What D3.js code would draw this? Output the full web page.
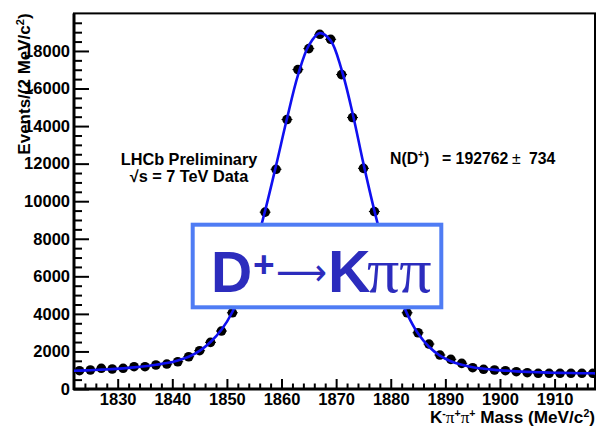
<!DOCTYPE html>
<html>
<head>
<meta charset="utf-8">
<script src="https://cdn.jsdelivr.net/npm/d3@7"></script>
<style>
  html, body { margin: 0; padding: 0; background: #fff; }
  svg { display: block; }
  text { font-family: "Liberation Sans", Arial, sans-serif; font-weight: bold; }
</style>
</head>
<body>
<svg id="chart" width="598" height="427"></svg>
<script>
// ---- data ----
const massBins = [1823,1825,1827,1829,1831,1833,1835,1837,1839,1841,1843,1845,1847,1849,1851,1853,
  1855,1857,1859,1861,1863,1865,1867,1869,1871,1873,1875,1877,1879,1881,1883,1885,1887,1889,1891,
  1893,1895,1897,1899,1901,1903,1905,1907,1909,1911,1913,1915,1917];
const counts = [974,1011,1101,1064,1101,1186,1186,1277,1330,1452,1718,2038,2484,3086,4059,5600,
  7400,9416,11700,14348,17008,18125,18886,18620,16742,14455,11750,9450,7400,5600,4059,2995,2394,1809,1580,
  1367,1133,1048,1011,974,920,867,835,835,835,835,835,835];
const fitMass = [1822,1823,1825,1827,1829,1831,1833,1835,1837,1839,1841,1843,1845,1847,1849,1851,1853,
  1855,1857,1859,1861,1863,1865,1867,1869,1871,1873,1875,1877,1879,1881,1883,1885,1887,1889,1891,
  1893,1895,1897,1899,1901,1903,1905,1907,1909,1911,1913,1915,1917,1918];
const fitValues = [970,980,1000,1030,1060,1100,1150,1210,1290,1380,1520,1720,2030,2500,3150,4100,5500,
  7350,9500,11900,14400,16700,18300,18950,18550,17000,14700,12000,9500,7300,5400,4000,2950,2250,1780,1480,
  1290,1160,1080,1020,980,940,910,890,870,860,850,840,835,833];
const xTicks = [1830,1840,1850,1860,1870,1880,1890,1900,1910];
const xMinorTicks = [1824,1826,1828,1832,1834,1836,1838,1842,1844,1846,1848,1852,1854,1856,1858,
  1862,1864,1866,1868,1872,1874,1876,1878,1882,1884,1886,1888,1892,1894,1896,1898,1902,1904,1906,
  1908,1912,1914,1916];
const yTicks = [0,2000,4000,6000,8000,10000,12000,14000,16000,18000];
const yMinorTicks = [500,1000,1500,2500,3000,3500,4500,5000,5500,6500,7000,7500,8500,9000,9500,
  10500,11000,11500,12500,13000,13500,14500,15000,15500,16500,17000,17500,18500,19000,19500];
const binWidth = 2;

// ---- layout ----
const L = 74, R = 595, T = 13.4, B = 389;
const svg = d3.select("#chart");
svg.append("rect").attr("width", 598).attr("height", 427).attr("fill", "#fff");

const x = d3.scaleLinear().domain([1822, 1917.4]).range([L, R]);
const y = d3.scaleLinear().domain([0, 20000]).range([B, T]);

// axes (ticks pointing inward)
const gx = svg.append("g").attr("transform", `translate(0,${B})`)
  .call(d3.axisBottom(x).tickValues(xTicks).tickSize(-10).tickPadding(4.5).tickFormat(d3.format("d")));
const gxm = svg.append("g").attr("transform", `translate(0,${B})`)
  .call(d3.axisBottom(x).tickValues(xMinorTicks).tickSize(-5.5).tickFormat(""));
const gy = svg.append("g").attr("transform", `translate(${L},0)`)
  .call(d3.axisLeft(y).tickValues(yTicks).tickSize(-15).tickPadding(4).tickFormat(d3.format("d")));
const gym = svg.append("g").attr("transform", `translate(${L},0)`)
  .call(d3.axisLeft(y).tickValues(yMinorTicks).tickSize(-8).tickFormat(""));
[gx, gxm, gy, gym].forEach(g => {
  g.select(".domain").remove();
  g.selectAll(".tick line").attr("stroke", "#000").attr("stroke-width", 2);
  g.selectAll("text").attr("fill", "#000")
    .style("font-family", "'Liberation Sans', Arial, sans-serif")
    .style("font-weight", "bold").style("font-size", "16.5px");
});

// frame
svg.append("rect").attr("x", L).attr("y", T).attr("width", R - L).attr("height", B - T)
  .attr("fill", "none").attr("stroke", "#000").attr("stroke-width", 2);
svg.append("line").attr("x1", L).attr("x2", L).attr("y1", T).attr("y2", B + 1)
  .attr("stroke", "#000").attr("stroke-width", 3);
svg.append("line").attr("x1", L - 1).attr("x2", R + 1).attr("y1", B).attr("y2", B)
  .attr("stroke", "#000").attr("stroke-width", 3);

svg.append("clipPath").attr("id", "plotclip").append("rect")
  .attr("x", L).attr("y", T).attr("width", R - L).attr("height", B - T);

// data points with error bars
const pts = svg.append("g").attr("clip-path", "url(#plotclip)");
const data = massBins.map((m, i) => ({ m, n: counts[i] }));
pts.selectAll("line.h").data(data).join("line").attr("class", "h")
  .attr("x1", d => x(d.m - binWidth / 2)).attr("x2", d => x(d.m + binWidth / 2))
  .attr("y1", d => y(d.n)).attr("y2", d => y(d.n)).attr("stroke", "#000").attr("stroke-width", 1);
pts.selectAll("line.v").data(data).join("line").attr("class", "v")
  .attr("x1", d => x(d.m)).attr("x2", d => x(d.m))
  .attr("y1", d => y(d.n + Math.sqrt(d.n))).attr("y2", d => y(d.n - Math.sqrt(d.n)))
  .attr("stroke", "#000").attr("stroke-width", 1);
pts.selectAll("circle").data(data).join("circle")
  .attr("cx", d => x(d.m)).attr("cy", d => y(d.n)).attr("r", 4.8).attr("fill", "#000");

// fit curve
const fit = fitMass.map((m, i) => ({ m, v: fitValues[i] }));
svg.append("path").datum(fit).attr("clip-path", "url(#plotclip)")
  .attr("fill", "none").attr("stroke", "#1010f0").attr("stroke-width", 2.6)
  .attr("d", d3.line().x(d => x(d.m)).y(d => y(d.v)).curve(d3.curveCatmullRom.alpha(0.5)));

// axis titles
const ytitle = svg.append("text").attr("transform", `translate(29.5,${T}) rotate(-90)`)
  .attr("text-anchor", "end").style("font-size", "17px").attr("fill", "#000");
ytitle.append("tspan").text("Events/(2 MeV/c");
ytitle.append("tspan").attr("dy", -6).style("font-size", "11px").text("2");
ytitle.append("tspan").attr("dy", 6).text(")");

const xtitle = svg.append("text").attr("x", R).attr("y", 423).attr("text-anchor", "end")
  .style("font-size", "17.2px").attr("fill", "#000");
xtitle.append("tspan").text("K");
xtitle.append("tspan").attr("dy", -6).style("font-size", "10.5px").text("-");
xtitle.append("tspan").attr("dy", 6).style("font-family", "'Liberation Serif', serif").style("font-weight", "normal").text("π");
xtitle.append("tspan").attr("dy", -6).style("font-size", "10.5px").text("+");
xtitle.append("tspan").attr("dy", 6).style("font-family", "'Liberation Serif', serif").style("font-weight", "normal").text("π");
xtitle.append("tspan").attr("dy", -6).style("font-size", "10.5px").text("+");
xtitle.append("tspan").attr("dy", 6).text(" Mass (MeV/c");
xtitle.append("tspan").attr("dy", -6).style("font-size", "10.5px").text("2");
xtitle.append("tspan").attr("dy", 6).text(")");

// labels
svg.append("text").attr("x", 189).attr("y", 164.5).attr("text-anchor", "middle")
  .style("font-size", "16.3px").attr("fill", "#000").text("LHCb Preliminary");
svg.append("text").attr("x", 189).attr("y", 182).attr("text-anchor", "middle")
  .style("font-size", "16.3px").attr("fill", "#000").text("√s = 7 TeV Data");

const nlab = svg.append("text").attr("x", 390).attr("y", 164)
  .style("font-size", "15.8px").attr("fill", "#000");
nlab.append("tspan").text("N(D");
nlab.append("tspan").attr("dy", -6).style("font-size", "10px").text("+");
nlab.append("tspan").attr("dy", 6).text(")");
nlab.append("tspan").attr("x", 442).text("= 192762");
nlab.append("tspan").attr("x", 512).style("font-weight", "normal").text("±");
nlab.append("tspan").attr("x", 529).text("734");

// decay box
const boxColor = "#4f7cf4", boxText = "#2c2cbd";
svg.append("rect").attr("x", 192.7).attr("y", 224.7).attr("width", 248.6).attr("height", 82.6)
  .attr("fill", "#fff").attr("stroke", boxColor).attr("stroke-width", 4);
svg.append("text").attr("x", 211).attr("y", 291.7).style("font-size", "57px")
  .attr("fill", boxText).text("D");
svg.append("text").attr("x", 253).attr("y", 277).style("font-size", "37px")
  .attr("fill", boxText).text("+");
svg.append("text").attr("x", 276).attr("y", 284.5).style("font-size", "38px")
  .attr("textLength", 51).attr("lengthAdjust", "spacingAndGlyphs")
  .style("font-family", "'DejaVu Sans', sans-serif").style("font-weight", "normal")
  .attr("fill", boxText).text("⟶");
const kpp = svg.append("text").attr("x", 328).attr("y", 291.7).attr("fill", boxText);
kpp.append("tspan").style("font-size", "59px").text("K");
kpp.append("tspan").attr("x", 367).style("font-size", "64px")
  .style("font-family", "'Liberation Serif', serif").style("font-weight", "normal").text("ππ");
</script>
</body>
</html>
